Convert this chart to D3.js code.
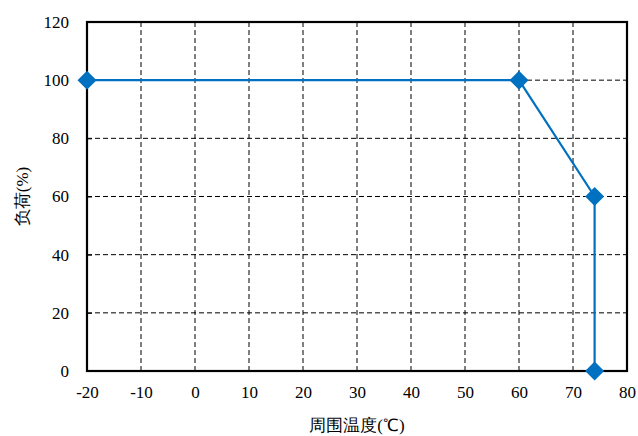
<!DOCTYPE html>
<html>
<head>
<meta charset="utf-8">
<script src="https://cdn.jsdelivr.net/npm/d3@7"></script>
<style>
body{margin:0;background:#fff;}
svg{display:block;}
svg text{font-family:"Liberation Serif";}
</style>
</head>
<body>
<svg width="638" height="436"></svg>
<script>
//数据
var temps=[-20,60,74,74];
var loads=[100,100,60,0];
var xTicks=[-20,-10,0,10,20,30,40,50,60,70,80];
var yTicks=[0,20,40,60,80,100,120];

var svg=d3.select("svg"),
    margin={top:22,right:11,bottom:65,left:87},
    width=+svg.attr("width")-margin.left-margin.right,
    height=+svg.attr("height")-margin.top-margin.bottom;

var g=svg.append("g").attr("transform","translate("+margin.left+","+margin.top+")");

var x=d3.scaleLinear().domain([-20,80]).range([0,width]);
var y=d3.scaleLinear().domain([0,120]).range([height,0]);

//网格
g.append("g").selectAll("line").data(xTicks.slice(1,-1)).enter().append("line")
  .attr("x1",function(d){return x(d);}).attr("x2",function(d){return x(d);})
  .attr("y1",0).attr("y2",height)
  .attr("stroke","#000").attr("stroke-width",1).attr("stroke-dasharray","5,3");
g.append("g").selectAll("line").data(yTicks.slice(1,-1)).enter().append("line")
  .attr("y1",function(d){return y(d);}).attr("y2",function(d){return y(d);})
  .attr("x1",0).attr("x2",width)
  .attr("stroke","#000").attr("stroke-width",1).attr("stroke-dasharray","5,3");

//坐标轴
var fmt=function(d){return String(d);};
var xAxis=g.append("g").attr("transform","translate(0,"+height+")")
  .call(d3.axisBottom(x).tickValues(xTicks).tickFormat(fmt).tickSize(0).tickPadding(15));
var yAxis=g.append("g")
  .call(d3.axisLeft(y).tickValues(yTicks).tickFormat(fmt).tickSize(-5).tickPadding(18));
[xAxis,yAxis].forEach(function(a){
  a.attr("font-family",null).attr("font-size",17);
  a.select(".domain").remove();
  a.selectAll("text").style("font-family","Liberation Serif").attr("fill","#000");
  a.selectAll("line").attr("stroke","#000");
});

//边框
g.append("rect").attr("x",0).attr("y",0).attr("width",width).attr("height",height)
  .attr("fill","none").attr("stroke","#000").attr("stroke-width",2.2);

//折线
var pts=temps.map(function(t,i){return [t,loads[i]];});
g.append("path").datum(pts)
  .attr("fill","none").attr("stroke","#0070C0").attr("stroke-width",2.2)
  .attr("d",d3.line().x(function(d){return x(d[0]);}).y(function(d){return y(d[1]);}));

g.selectAll(".pt").data(pts).enter().append("path")
  .attr("class","pt")
  .attr("transform",function(d){return "translate("+x(d[0])+","+y(d[1])+")";})
  .attr("d","M0,-9.5L9.5,0L0,9.5L-9.5,0Z")
  .attr("fill","#0070C0");

//标题
svg.append("text").attr("x",margin.left+width/2).attr("y",431)
  .attr("text-anchor","middle").attr("font-size",17)
  .style("font-family","Liberation Serif")
  .text("周围温度(℃)");
svg.append("text")
  .attr("transform","translate(28,"+(margin.top+height/2)+") rotate(-90)")
  .attr("text-anchor","middle").attr("font-size",17)
  .style("font-family","Liberation Serif")
  .text("负荷(%)");
</script>
</body>
</html>
